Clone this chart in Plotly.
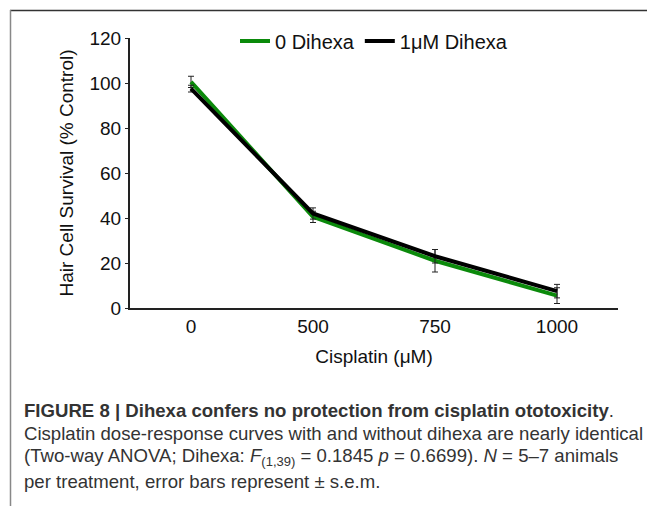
import plotly.graph_objects as go

# cisplatin doses (categorical x axis)
doses = ["0", "500", "750", "1000"]

# hair cell survival, % of control
survival_0 = [100.5, 40.5, 21.0, 5.5]
sem_0 = [2.5, 2.5, 5.0, 3.5]
survival_1 = [97.5, 42.0, 23.0, 7.5]
sem_1 = [1.5, 2.5, 3.0, 3.0]

series_names = ["0 Dihexa", "1μM Dihexa"]
series_colors = ["#0b8a0b", "#000000"]

caption_lines = [
    "<b>FIGURE 8 | Dihexa confers no protection from cisplatin ototoxicity</b>.",
    "Cisplatin dose-response curves with and without dihexa are nearly identical",
    "(Two-way ANOVA; Dihexa: <i>F</i><sub>(1,39)</sub> = 0.1845 <i>p</i> = 0.6699). <i>N</i> = 5–7 animals",
    "per treatment, error bars represent ± s.e.m.",
]

# page is shown with the browser's 8px body margin, so size the figure to fit
OFF = 8
W, H = 655 - OFF, 506 - OFF
L, T = 130 - OFF, 38 - OFF
PW, PH = 488, 270
R, B = W - L - PW, H - T - PH


def px(x):
    # page pixel -> paper x
    return (x - OFF - L) / PW


def py(y):
    # page pixel -> paper y
    return (T + PH - (y - OFF)) / PH


FONT = "Arial, Liberation Sans, sans-serif"

fig = go.Figure()
for name, vals, err, color in [
    (series_names[0], survival_0, sem_0, series_colors[0]),
    (series_names[1], survival_1, sem_1, series_colors[1]),
]:
    fig.add_trace(
        go.Scatter(
            x=doses,
            y=vals,
            mode="lines",
            name=name,
            line={"color": color, "width": 4},
            error_y={"type": "data", "array": err, "color": "#222", "thickness": 1, "width": 3},
        )
    )

# figure frame (only top and left edges visible in the crop)
fig.add_shape(type="line", xref="paper", yref="paper", x0=px(10), x1=px(700), y0=py(10.5), y1=py(10.5),
              line={"color": "#333", "width": 1.5})
fig.add_shape(type="line", xref="paper", yref="paper", x0=px(10.5), x1=px(10.5), y0=py(10), y1=py(600),
              line={"color": "#888", "width": 1.5})

caption_y = [410, 433, 457, 481]
for text, yy in zip(caption_lines, caption_y):
    fig.add_annotation(
        text=text, xref="paper", yref="paper", x=px(22), y=py(yy),
        xanchor="left", yanchor="middle", showarrow=False, align="left",
        font={"family": FONT, "size": 18.6, "color": "#333"},
    )

fig.update_layout(
    width=W,
    height=H,
    margin={"l": L, "r": R, "t": T, "b": B},
    plot_bgcolor="white",
    paper_bgcolor="white",
    font={"family": FONT, "size": 19, "color": "#111"},
    showlegend=True,
    legend={
        "orientation": "h",
        "x": px(235),
        "y": py(41),
        "xanchor": "left",
        "yanchor": "middle",
        "font": {"size": 20},
        "itemwidth": 30,
        "bgcolor": "rgba(0,0,0,0)",
    },
)
fig.update_xaxes(
    type="category",
    range=[-0.5, 3.5],
    showline=True,
    linewidth=2,
    linecolor="#222",
    showgrid=False,
    zeroline=False,
    ticks="",
    ticklen=0,
    tickfont={"size": 19},
    title={"text": "Cisplatin (μM)", "standoff": 14, "font": {"size": 19}},
)
fig.update_yaxes(
    range=[0, 120],
    dtick=20,
    showline=True,
    linewidth=2,
    linecolor="#222",
    ticks="outside",
    ticklen=3,
    tickcolor="#222",
    tickfont={"size": 19},
    showgrid=False,
    zeroline=False,
    title={"text": "Hair Cell Survival (% Control)", "standoff": 11, "font": {"size": 19}},
)

fig.write_html("out.html")
